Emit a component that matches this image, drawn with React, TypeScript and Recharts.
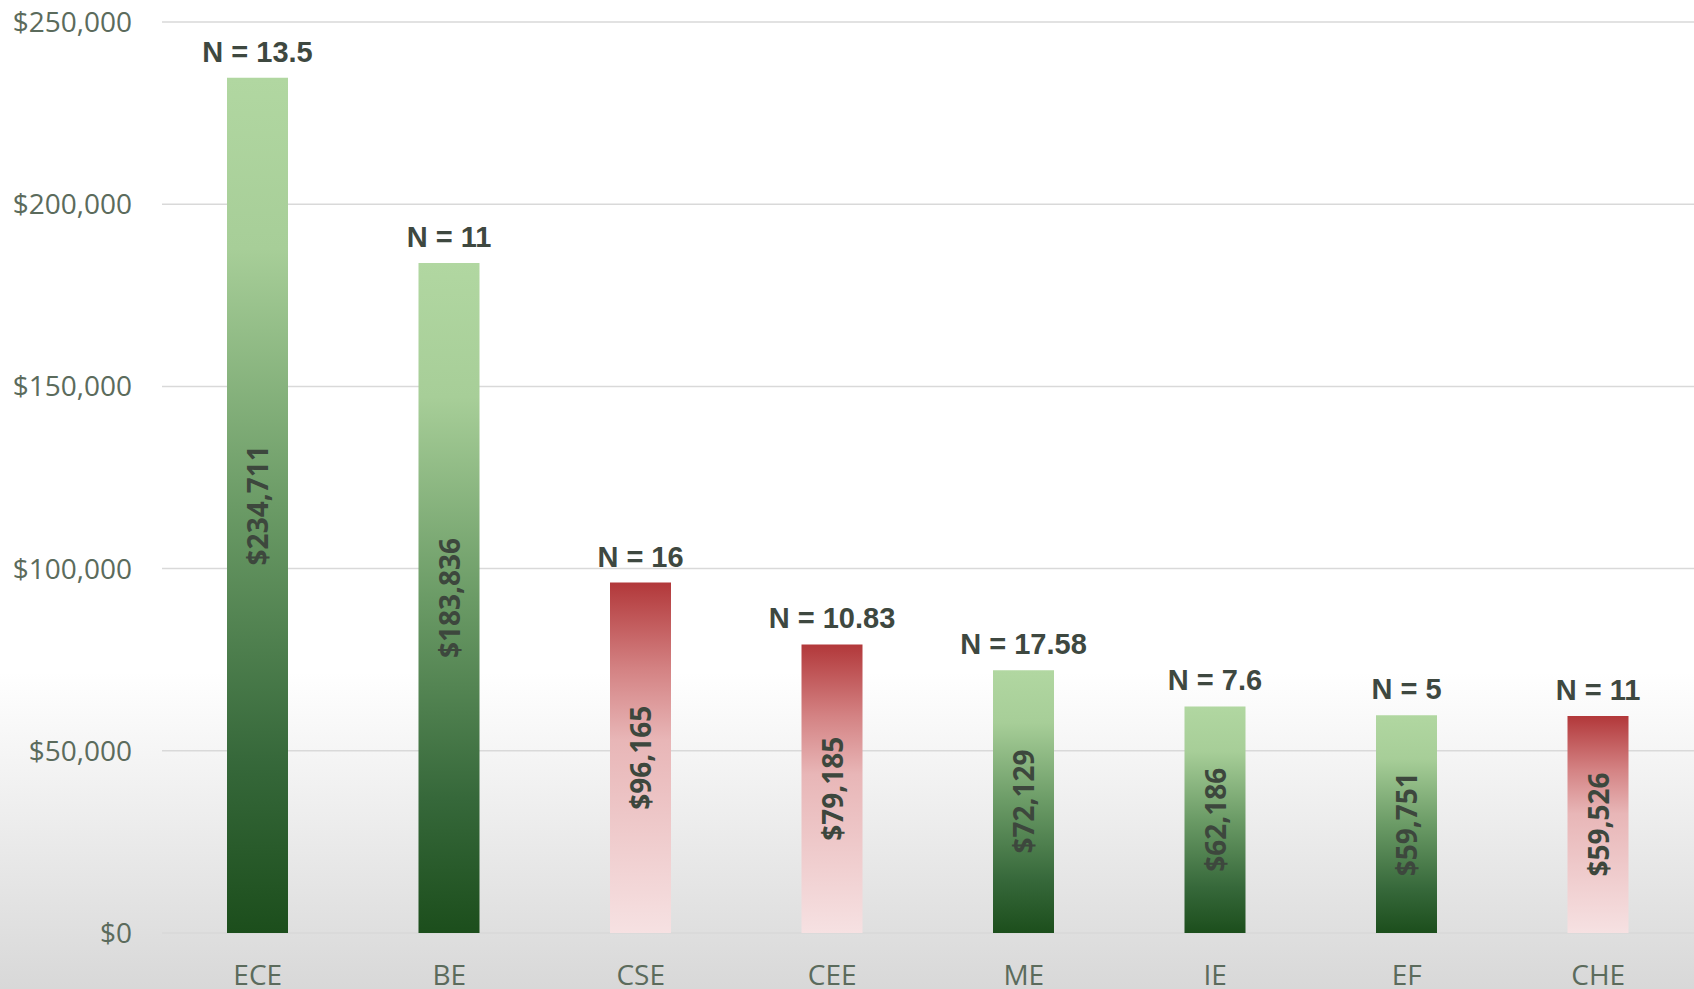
import { BarChart, Bar, XAxis, YAxis, CartesianGrid, Cell, LabelList } from 'recharts';

const majors = ['ECE', 'BE', 'CSE', 'CEE', 'ME', 'IE', 'EF', 'CHE'];
const salaries = [234711, 183836, 96165, 79185, 72129, 62186, 59751, 59526];
const sampleSizes = ['13.5', '11', '16', '10.83', '17.58', '7.6', '5', '11'];
const tones = ['green', 'green', 'red', 'red', 'green', 'green', 'green', 'red'];
const yTicks = [0, 50000, 100000, 150000, 200000, 250000];

const data = majors.map((major, i) => ({
  major,
  salary: salaries[i],
  n: sampleSizes[i],
  tone: tones[i],
}));

const money = (v: number) => '$' + v.toLocaleString('en-US');

// N = ... label above each bar
function NLabel(props: any) {
  const { x, y, width, index } = props;
  return (
    <text
      x={x + width / 2}
      y={y - 16}
      textAnchor="middle"
      fontFamily="'Liberation Sans', Arial, sans-serif"
      fontWeight="bold"
      fontSize={29}
      fill="#3e4840"
    >
      {`N = ${data[index].n}`}
    </text>
  );
}

// rotated salary label in the middle of the bar
function ValueLabel(props: any) {
  const { x, y, width, height, value } = props;
  const cx = x + width / 2;
  const cy = y + height / 2;
  return (
    <text
      x={cx}
      y={cy}
      transform={`rotate(-90 ${cx} ${cy})`}
      textAnchor="middle"
      dominantBaseline="central"
      fontFamily="'Open Sans', sans-serif"
      fontWeight="bold"
      fontSize={28}
      fill="#3d473d"
    >
      {money(value)}
    </text>
  );
}

export default function App() {
  return (
    <div
      style={{
        position: 'absolute',
        left: 0,
        top: 0,
        width: 1694,
        height: 989,
        background: 'linear-gradient(to bottom, #ffffff 0%, #ffffff 68%, #d8d8d8 100%)',
      }}
    >
      <BarChart
        width={1694}
        height={989}
        data={data}
        margin={{ top: 22, right: 0, left: 0, bottom: 0 }}
      >
        <defs>
          <linearGradient id="greenFill" x1="0" y1="0" x2="0" y2="1">
            <stop offset="0%" stopColor="#b1d7a1" />
            <stop offset="20%" stopColor="#a7ce98" />
            <stop offset="50%" stopColor="#6b9b66" />
            <stop offset="80%" stopColor="#36683a" />
            <stop offset="100%" stopColor="#1c4e1c" />
          </linearGradient>
          <linearGradient id="redFill" x1="0" y1="0" x2="0" y2="1">
            <stop offset="0%" stopColor="#b2383a" />
            <stop offset="25%" stopColor="#d48384" />
            <stop offset="45%" stopColor="#e8b6b7" />
            <stop offset="100%" stopColor="#f6e1e2" />
          </linearGradient>
        </defs>
        <CartesianGrid vertical={false} stroke="#d9d9d9" strokeWidth={1.5} />
        <XAxis
          dataKey="major"
          height={56}
          axisLine={false}
          tickLine={false}
          tickSize={0}
          tickMargin={32}
          tick={{ fontFamily: "'Open Sans', sans-serif", fontSize: 28, fill: '#5b6b5c' }}
        />
        <YAxis
          width={162}
          domain={[0, 250000]}
          ticks={yTicks}
          axisLine={false}
          tickLine={false}
          tickSize={0}
          tickMargin={30}
          tickFormatter={money}
          tick={{ fontFamily: "'Open Sans', sans-serif", fontSize: 28, fill: '#5b6b5c' }}
        />
        <Bar dataKey="salary" barSize={61} isAnimationActive={false}>
          {data.map((d) => (
            <Cell key={d.major} fill={d.tone === 'green' ? 'url(#greenFill)' : 'url(#redFill)'} />
          ))}
          <LabelList dataKey="salary" content={ValueLabel} />
          <LabelList dataKey="n" content={NLabel} />
        </Bar>
      </BarChart>
    </div>
  );
}
